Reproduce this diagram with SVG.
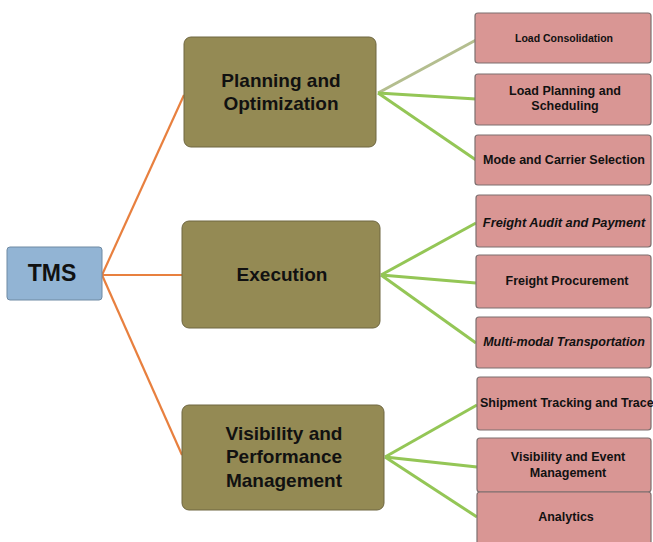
<svg xmlns="http://www.w3.org/2000/svg" width="653" height="542" viewBox="0 0 653 542">
<style>
.root{fill:#92B4D4;stroke:#6f8aa3;stroke-width:1}
.mid{fill:#948A54;stroke:#6e6640;stroke-width:1}
.leaf{fill:#D99694;stroke:#7d6f6f;stroke-width:1.2}
.t{font-family:"Liberation Sans",Arial,sans-serif;font-weight:bold;fill:#111;text-anchor:middle;dominant-baseline:central}
.big{font-size:19px}
.sm{font-size:12.5px}
.it{font-style:italic}
.o{stroke:#E8803F;stroke-width:2.2;fill:none}
.g{stroke:#94C656;stroke-width:3;fill:none}
.g2{stroke:#B4BE8F;stroke-width:3;fill:none}
</style>
<rect width="653" height="542" fill="#fff"/>
<g id="connectors">
<path class="o" d="M102 275 L184 95"/>
<path class="o" d="M102 275 L182 275"/>
<path class="o" d="M102 275 L182 455"/>
<path class="g2" d="M378 93 L476 40"/>
<path class="g" d="M378 93 L476 99"/>
<path class="g" d="M378 93 L476 160"/>
<path class="g" d="M381 275 L476 223"/>
<path class="g" d="M381 275 L476 283"/>
<path class="g" d="M381 275 L476 343"/>
<path class="g" d="M385 457 L477 405"/>
<path class="g" d="M385 457 L477 467"/>
<path class="g" d="M385 457 L477 517"/>
</g>
<g id="tms"><rect class="root" x="7" y="247" width="95" height="53" rx="3"/><text class="t" x="52" y="273" font-size="23">TMS</text></g>
<g id="planning"><rect class="mid" x="184" y="37" width="192" height="110" rx="7"/><text class="t big" x="281" y="80">Planning and</text><text class="t big" x="281" y="103">Optimization</text></g>
<g id="execution"><rect class="mid" x="182" y="221" width="198" height="107" rx="7"/><text class="t big" x="282" y="274">Execution</text></g>
<g id="visibility"><rect class="mid" x="182" y="405" width="202" height="105" rx="7"/><text class="t big" x="284" y="433">Visibility and</text><text class="t big" x="284" y="456">Performance</text><text class="t big" x="284" y="480">Management</text></g>
<g id="leaf1"><rect class="leaf" x="475" y="13" width="176" height="50" rx="3"/><text class="t" x="564" y="38" font-size="10.5">Load Consolidation</text></g>
<g id="leaf2"><rect class="leaf" x="475" y="74" width="176" height="51" rx="3"/><text class="t sm" x="565" y="91">Load Planning and</text><text class="t sm" x="565" y="106">Scheduling</text></g>
<g id="leaf3"><rect class="leaf" x="475" y="135" width="176" height="50" rx="3"/><text class="t sm" x="564" y="160">Mode and Carrier Selection</text></g>
<g id="leaf4"><rect class="leaf" x="476" y="195" width="175" height="52" rx="3"/><text class="t it" x="564" y="222" font-size="12.8">Freight Audit and Payment</text></g>
<g id="leaf5"><rect class="leaf" x="476" y="255" width="175" height="53" rx="3"/><text class="t sm" x="567" y="281">Freight Procurement</text></g>
<g id="leaf6"><rect class="leaf" x="476" y="317" width="175" height="51" rx="3"/><text class="t sm it" x="564" y="342">Multi-modal Transportation</text></g>
<g id="leaf7"><rect class="leaf" x="477" y="377" width="174" height="53" rx="3"/><text class="t sm" x="480" y="403" style="text-anchor:start">Shipment Tracking and Trace</text></g>
<g id="leaf8"><rect class="leaf" x="477" y="438" width="174" height="54" rx="3"/><text class="t sm" x="568" y="457">Visibility and Event</text><text class="t sm" x="568" y="473">Management</text></g>
<g id="leaf9"><rect class="leaf" x="477" y="492" width="174" height="56" rx="3"/><text class="t sm" x="566" y="517">Analytics</text></g>
</svg>
